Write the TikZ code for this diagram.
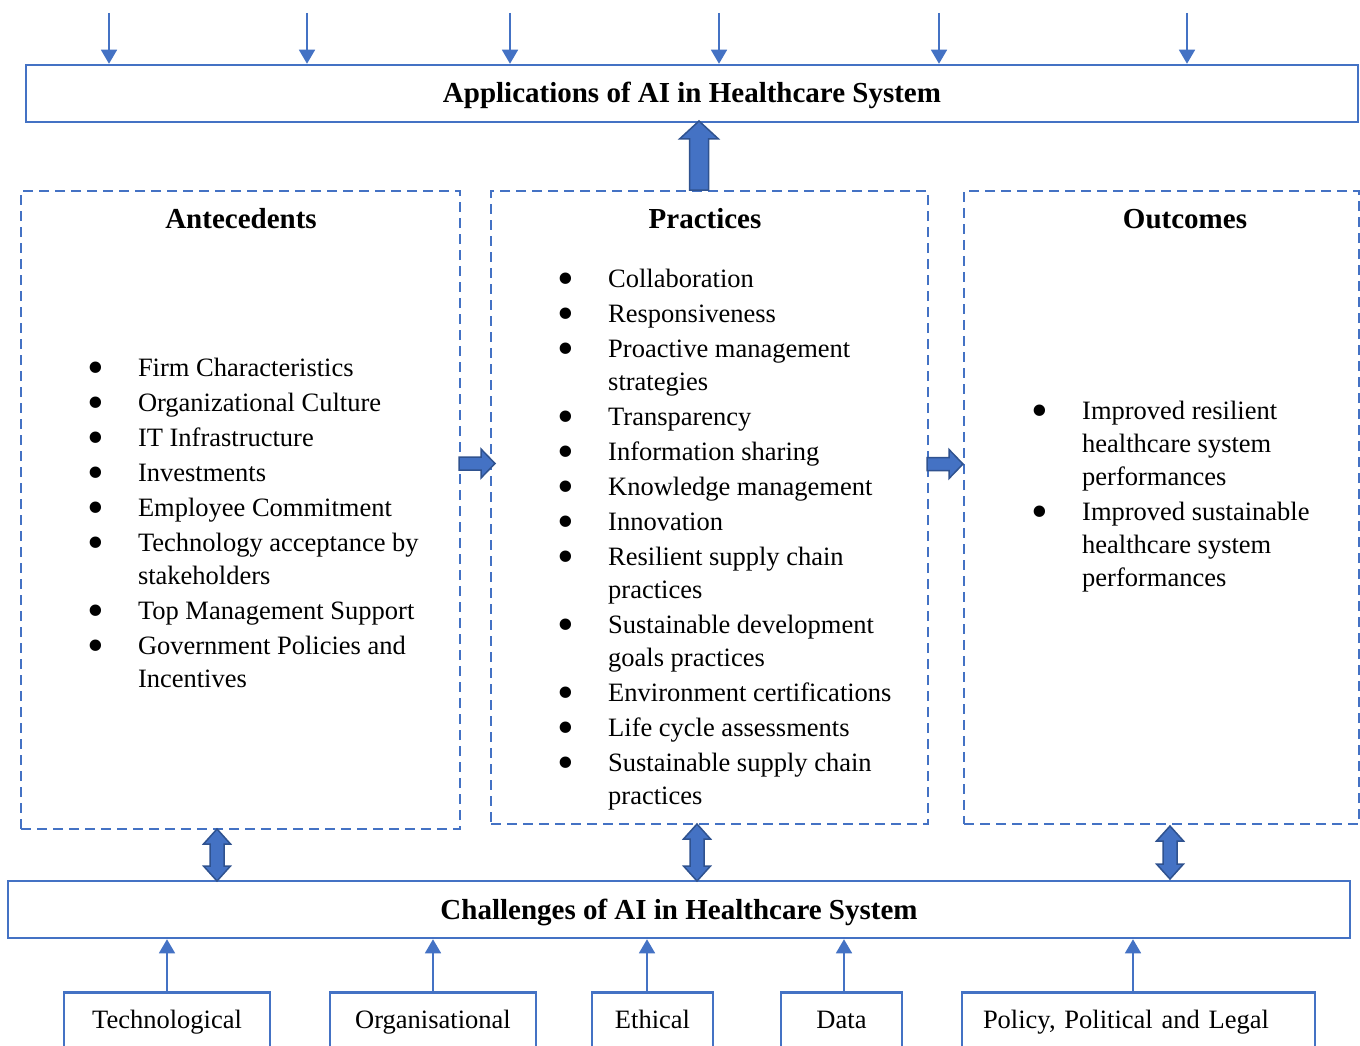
\documentclass[tikz,border=0pt]{standalone}
\usepackage{fontspec}
\setmainfont{Liberation Serif}
\usetikzlibrary{arrows.meta}
\definecolor{accent}{HTML}{4472C4}
\definecolor{accentdark}{HTML}{2F528F}
% enlarged bullet followed by the hanging indent of the list text
\newcommand\bul{\makebox[46.9pt][l]{\makebox[9.28pt][c]{\smash{\raisebox{-7.8pt}{\scalebox{1.8}{\textbullet}}}}}}
\begin{document}
\begin{tikzpicture}[x=1pt,y=-1pt,
  bigbox/.style={draw=accent, line width=2.5pt, inner sep=0pt,
    font=\fontsize{29}{33}\selectfont\bfseries, text height=20pt, text depth=1pt},
  groupbox/.style={draw=accent, line width=2pt, dash pattern=on 10pt off 6pt, inner sep=0pt},
  grouptitle/.style={anchor=base, inner sep=0pt, font=\fontsize{29}{33}\selectfont\bfseries},
  itemlist/.style={anchor=base west, inner sep=0pt, font=\fontsize{26.5}{33}\selectfont},
  factor/.style={draw=accent, line width=2.5pt, anchor=north, minimum height=60pt,
    inner sep=0pt, text height=18pt, text depth=6pt, font=\fontsize{26.5}{33}\selectfont},
  feed/.style={draw=accent, line width=1.5pt, -{Triangle[length=14pt,width=16pt]}},
  blockarrow/.style={fill=accent, draw=accentdark, line width=1.5pt, line join=miter},
  updown/.pic={\draw[blockarrow] (0,0) -- (13.5,15) -- (7,15) -- (7,#1-15) -- (13.5,#1-15)
     -- (0,#1) -- (-13.5,#1-15) -- (-7,#1-15) -- (-7,15) -- (-13.5,15) -- cycle;},
  rightward/.pic={\draw[blockarrow] (0,-6.5) -- (22,-6.5) -- (22,-14.5) -- (36,0)
     -- (22,14.5) -- (22,6.5) -- (0,6.5) -- cycle;},
]
\useasboundingbox (0,0) rectangle (1360,1046);

% main bars
\node[bigbox, minimum width=1332pt, minimum height=57pt] (app) at (692,93.5)
  {Applications of AI in Healthcare System};
\node[bigbox, minimum width=1342pt, minimum height=57pt] (chal) at (679,909.5)
  {Challenges of AI in Healthcare System};

% incoming arrows on top
\foreach \n/\x in {1/109,2/307,3/510,4/719,5/939,6/1187}{
  \coordinate (t\n) at (\x,13);
  \draw[feed] (t\n) -- (t\n |- app.north);
}

% three groups
\node[groupbox, minimum width=439pt, minimum height=638pt] (ant) at (240.5,510) {};
\node[groupbox, minimum width=437pt, minimum height=633pt] (pra) at (709.5,507.5) {};
\node[groupbox, minimum width=395pt, minimum height=633pt] (out) at (1161.5,507.5) {};

\node[grouptitle] (antT) at (241,228) {Antecedents};
\node[grouptitle] (praT) at (705,228) {Practices};
\node[grouptitle] (outT) at (1185,228) {Outcomes};

\node[itemlist] (antL) at (90.9,376) {\begin{tabular}[t]{@{}l@{}l@{}}
\bul & Firm Characteristics\\[2pt]
\bul & Organizational Culture\\[2pt]
\bul & IT Infrastructure\\[2pt]
\bul & Investments\\[2pt]
\bul & Employee Commitment\\[2pt]
\bul & Technology acceptance by\\
     & stakeholders\\[2pt]
\bul & Top Management Support\\[2pt]
\bul & Government Policies and\\
     & Incentives
\end{tabular}};

\node[itemlist] (praL) at (561.1,287) {\begin{tabular}[t]{@{}l@{}l@{}}
\bul & Collaboration\\[2pt]
\bul & Responsiveness\\[2pt]
\bul & Proactive management\\
     & strategies\\[2pt]
\bul & Transparency\\[2pt]
\bul & Information sharing\\[2pt]
\bul & Knowledge management\\[2pt]
\bul & Innovation\\[2pt]
\bul & Resilient supply chain\\
     & practices\\[2pt]
\bul & Sustainable development\\
     & goals practices\\[2pt]
\bul & Environment certifications\\[2pt]
\bul & Life cycle assessments\\[2pt]
\bul & Sustainable supply chain\\
     & practices
\end{tabular}};

\node[itemlist] (outL) at (1035.1,419) {\begin{tabular}[t]{@{}l@{}l@{}}
\bul & Improved resilient\\
     & healthcare system\\
     & performances\\[2pt]
\bul & Improved sustainable\\
     & healthcare system\\
     & performances
\end{tabular}};

% block arrows between the parts
\draw[blockarrow] (699,121) -- (718.5,139) -- (708.5,139) -- (708.5,190)
  -- (689.5,190) -- (689.5,139) -- (679.5,139) -- cycle;
\pic at (459,463.5) {rightward};
\pic at (927,464) {rightward};
\pic at (217,829) {updown=52};
\pic at (697,824) {updown=57};
\pic at (1170,826) {updown=53};

% challenge factors
\node[factor, minimum width=206pt] (tech) at (167,991) {Technological};
\node[factor, minimum width=206pt] (org) at (433,991) {Organisational};
\node[factor, minimum width=121pt] (eth) at (652.5,991) {Ethical};
\node[factor, minimum width=121pt] (dat) at (841.5,991) {Data};
\node[factor, minimum width=353pt, inner xsep=21pt, text width=311pt, align=left] (pol)
  at (1138.5,991) {Policy, Political and Legal};

\draw[feed] (tech.north) -- (tech.north |- chal.south);
\draw[feed] (org.north) -- (org.north |- chal.south);
\draw[feed] ([xshift=-5.5pt]eth.north) -- ([xshift=-5.5pt]eth.north |- chal.south);
\draw[feed] ([xshift=2.5pt]dat.north) -- ([xshift=2.5pt]dat.north |- chal.south);
\draw[feed] ([xshift=-5.5pt]pol.north) -- ([xshift=-5.5pt]pol.north |- chal.south);
\end{tikzpicture}
\end{document}
